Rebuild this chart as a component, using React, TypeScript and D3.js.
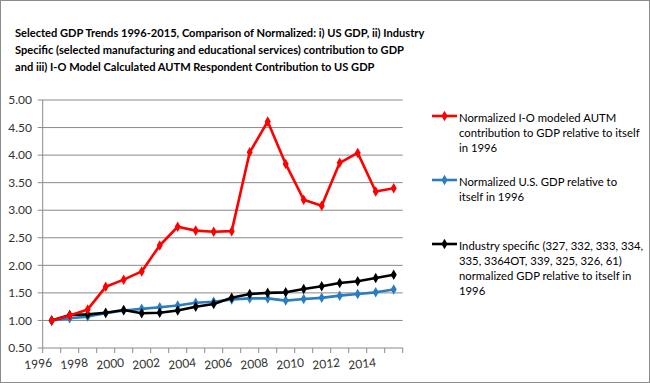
import React, { useEffect, useRef } from "react";
import * as d3 from "d3";

const years = [1996,1997,1998,1999,2000,2001,2002,2003,2004,2005,2006,2007,2008,2009,2010,2011,2012,2013,2014,2015];
const autm = [1.00,1.09,1.20,1.61,1.74,1.89,2.36,2.70,2.63,2.61,2.62,4.05,4.61,3.84,3.19,3.08,3.86,4.04,3.34,3.40];
const usGdp = [1.00,1.04,1.07,1.13,1.18,1.21,1.24,1.27,1.32,1.34,1.38,1.40,1.40,1.36,1.39,1.41,1.45,1.48,1.51,1.56];
const industry = [1.00,1.10,1.11,1.14,1.19,1.13,1.14,1.18,1.25,1.30,1.41,1.48,1.50,1.51,1.57,1.62,1.68,1.71,1.77,1.83];
const yTicks = [0.5,1,1.5,2,2.5,3,3.5,4,4.5,5];
const xLabelYears = [1996,1998,2000,2002,2004,2006,2008,2010,2012,2014];
const titleLines = [
  "Selected GDP Trends 1996-2015, Comparison of Normalized: i) US GDP, ii) Industry",
  "Specific (selected manufacturing and educational services) contribution to GDP",
  "and iii) I-O Model Calculated AUTM Respondent Contribution to US GDP",
];
const seriesNames = [
  ["Normalized I-O modeled AUTM", "contribution to GDP relative to itself", "in 1996"],
  ["Normalized U.S. GDP relative to", "itself in 1996"],
  ["Industry specific (327, 332, 333, 334,", "335, 3364OT, 339, 325, 326, 61)", "normalized GDP relative to itself in", "1996"],
];
const colors = ["#FF0000", "#2A7DC0", "#000000"];

export default function App() {
  const ref = useRef<SVGSVGElement>(null);
  useEffect(() => {
    document.body.style.margin = "0";
    const svg = d3.select(ref.current);
    svg.selectAll("*").remove();
    const W = 650, H = 383;
    const left = 42.7, right = 402.7, top = 100, bottom = 348;
    const font = "Lato, 'Open Sans', sans-serif";

    svg.append("rect").attr("x", 0.5).attr("y", 0.5).attr("width", W - 1).attr("height", H - 1)
      .attr("fill", "#fff").attr("stroke", "#8c8c8c");

    const tg = svg.append("g");
    titleLines.forEach((t, i) => {
      tg.append("text").attr("x", 15).attr("y", 37 + i * 17).text(t)
        .attr("font-family", font).attr("font-weight", "bold").attr("font-size", 11.1).attr("fill", "#000");
    });

    const x = d3.scaleBand<number>().domain(years).range([left, right]);
    const y = d3.scaleLinear().domain([0.5, 5]).range([bottom, top]);

    const g = svg.append("g");
    yTicks.forEach((v) => {
      if (v > 0.5) g.append("line").attr("x1", left).attr("x2", right).attr("y1", y(v)).attr("y2", y(v)).attr("stroke", "#8a8a8a").attr("stroke-width", 1);
      g.append("line").attr("x1", left - 5).attr("x2", left).attr("y1", y(v)).attr("y2", y(v)).attr("stroke", "#8a8a8a");
      g.append("text").attr("x", 32).attr("y", y(v)).attr("dy", "0.35em").attr("text-anchor", "end")
        .attr("font-family", font).attr("font-size", 12).attr("fill", "#333").text(d3.format(".2f")(v));
    });
    g.append("line").attr("x1", left).attr("x2", right).attr("y1", bottom).attr("y2", bottom).attr("stroke", "#8a8a8a");
    g.append("line").attr("x1", left).attr("x2", left).attr("y1", top).attr("y2", bottom).attr("stroke", "#8a8a8a");
    years.concat([2016]).forEach((yr, i) => {
      const xx = left + i * x.bandwidth();
      g.append("line").attr("x1", xx).attr("x2", xx).attr("y1", bottom).attr("y2", bottom + 5).attr("stroke", "#8a8a8a");
    });
    xLabelYears.forEach((yr) => {
      const xx = (x(yr) as number) - 4;
      g.append("text").attr("transform", `translate(${xx},${bottom + 20}) rotate(-6)`).attr("text-anchor", "middle")
        .attr("font-family", font).attr("font-size", 12).attr("fill", "#333").text(yr);
    });

    const data = [autm, usGdp, industry];
    const line = d3.line<number>().x((_, i) => (x(years[i]) as number) + x.bandwidth() / 2).y((d) => y(d));
    const sym = d3.symbol().type(d3.symbolDiamond).size(32);
    [1, 2, 0].forEach((si) => {
      const vals = data[si];
      svg.append("path").attr("d", line(vals)).attr("fill", "none").attr("stroke", colors[si]).attr("stroke-width", 2.6).attr("stroke-linejoin", "round");
      vals.forEach((v, i) => {
        svg.append("path").attr("d", sym()).attr("transform", `translate(${(x(years[i]) as number) + x.bandwidth() / 2},${y(v)})`).attr("fill", colors[si]);
      });
    });

    const legY = [118, 182, 246];
    seriesNames.forEach((lines, si) => {
      const ly = legY[si] - 2;
      svg.append("line").attr("x1", 432).attr("x2", 457).attr("y1", ly).attr("y2", ly).attr("stroke", colors[si]).attr("stroke-width", 2.6);
      svg.append("path").attr("d", sym()).attr("transform", `translate(444.5,${ly})`).attr("fill", colors[si]);
      lines.forEach((t, j) => {
        svg.append("text").attr("x", 459).attr("y", legY[si] + j * 15).attr("dy", "0.35em")
          .attr("font-family", font).attr("font-size", 11.3).attr("fill", "#000").text(t);
      });
    });
  }, []);
  return <svg ref={ref} width={650} height={383} style={{ display: "block" }} />;
}
